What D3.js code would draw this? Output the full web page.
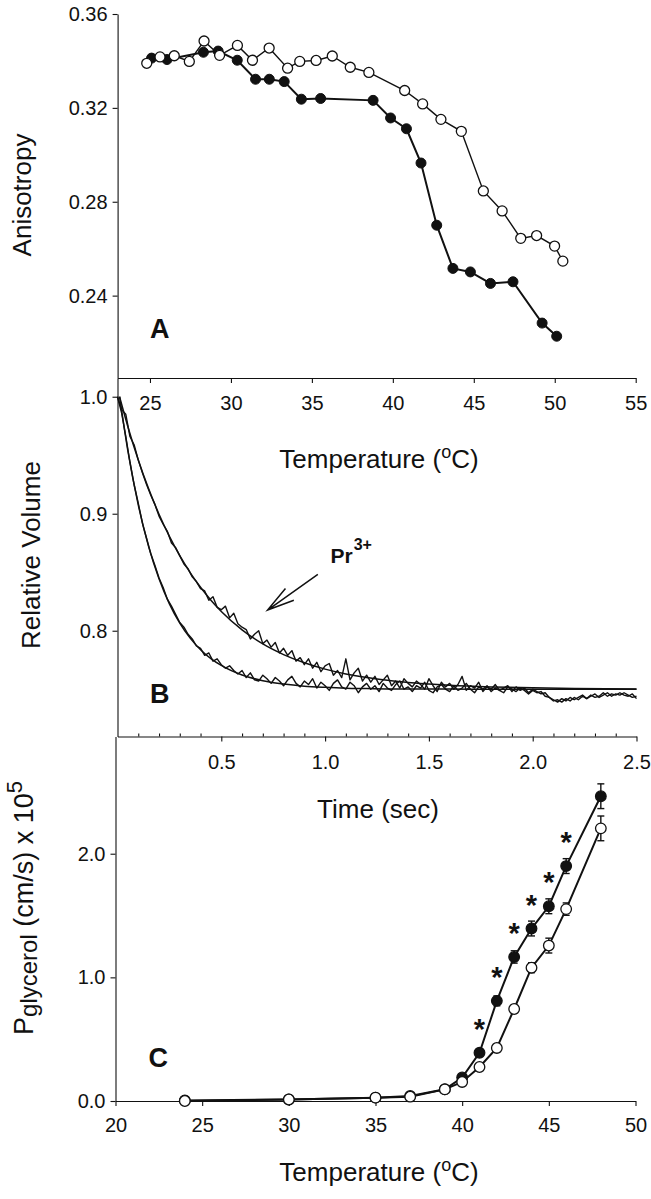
<!DOCTYPE html>
<html><head><meta charset="utf-8">
<script src="https://cdn.jsdelivr.net/npm/d3@7"></script>
<style>
html,body{margin:0;padding:0;background:#fff;}
svg{display:block;}
</style></head><body>
<svg id="chart" width="651" height="1199"></svg>
<script>
// ---------- Panel A : anisotropy vs temperature ----------
const anisoTempOpen = [24.8, 25.62, 26.5, 27.43, 28.34, 29.3, 30.4, 31.33, 32.36, 33.5, 34.25, 35.26, 36.26, 37.37, 38.52, 40.73, 41.84, 42.97, 44.23, 45.59, 46.75, 47.90, 48.88, 49.99, 50.5];
const anisoOpen     = [0.3390, 0.3417, 0.3422, 0.3398, 0.3485, 0.3424, 0.3466, 0.3403, 0.3455, 0.3369, 0.3398, 0.3402, 0.3421, 0.3373, 0.3351, 0.3274, 0.3217, 0.3151, 0.3100, 0.2846, 0.2761, 0.2644, 0.2656, 0.2611, 0.2547];
const anisoTempFilled = [25.1, 26.05, 28.3, 29.21, 30.39, 31.52, 32.37, 33.29, 34.35, 35.54, 38.78, 39.86, 40.84, 41.74, 42.71, 43.71, 44.79, 46.03, 47.42, 49.22, 50.12];
const anisoFilled     = [0.3412, 0.3406, 0.3437, 0.3442, 0.3403, 0.3322, 0.3322, 0.3312, 0.3237, 0.3240, 0.3232, 0.3157, 0.3111, 0.2965, 0.2700, 0.2516, 0.2501, 0.2452, 0.2459, 0.2283, 0.2227];
const anisoXTicks = [25, 30, 35, 40, 45, 50, 55];
const anisoYTicks = [0.24, 0.28, 0.32, 0.36];

// ---------- Panel B : relative volume vs time ----------
const traceStart = 0, traceStep = 0.02;   // acquisition grid of the recorded traces (s)
const fastTrace = [
 1.000, 0.986, 0.966, 0.944, 0.925, 0.909, 0.892, 0.879, 0.866, 0.856, 0.845, 0.837, 0.827, 0.821, 0.814, 0.807, 0.803, 0.797, 0.793, 0.787, 0.785,
 0.779, 0.781, 0.774, 0.776, 0.771, 0.768, 0.770, 0.766, 0.763, 0.766,
 0.760, 0.764, 0.758, 0.757, 0.762, 0.759, 0.755, 0.760, 0.757, 0.753,
 0.758, 0.761, 0.755, 0.752, 0.757, 0.754, 0.759, 0.751, 0.756, 0.753,
 0.749, 0.755, 0.758, 0.752, 0.750, 0.756, 0.753, 0.747, 0.752, 0.755,
 0.750, 0.753, 0.748, 0.755, 0.751, 0.749, 0.754, 0.757, 0.750, 0.752,
 0.748, 0.753, 0.751, 0.756, 0.749, 0.747, 0.752, 0.754, 0.750, 0.748,
 0.753, 0.749, 0.751, 0.755, 0.750, 0.747, 0.752, 0.750, 0.753, 0.748,
 0.751, 0.749, 0.747, 0.752, 0.750, 0.748, 0.751, 0.749, 0.746, 0.749,
 0.747, 0.748, 0.744, 0.743, 0.740, 0.741, 0.739, 0.742, 0.740, 0.743,
 0.741, 0.744, 0.742, 0.745, 0.743, 0.744, 0.747, 0.744, 0.746, 0.745,
 0.747, 0.745, 0.744, 0.746, 0.742];
const slowTrace = [
 1.000, 0.989, 0.985, 0.966, 0.959, 0.946, 0.935, 0.925, 0.916, 0.908, 0.898, 0.891, 0.885, 0.875, 0.871, 0.864, 0.857, 0.853, 0.846, 0.842, 0.836,
 0.834, 0.826, 0.829, 0.820, 0.818, 0.821, 0.811, 0.815, 0.806, 0.803,
 0.801, 0.793, 0.797, 0.800, 0.789, 0.792, 0.786, 0.790, 0.781, 0.785,
 0.779, 0.783, 0.774, 0.777, 0.771, 0.776, 0.768, 0.773, 0.765, 0.770,
 0.772, 0.762, 0.766, 0.760, 0.776, 0.758, 0.764, 0.768, 0.757, 0.762,
 0.756, 0.761, 0.754, 0.758, 0.762, 0.753, 0.757, 0.751, 0.759, 0.755,
 0.752, 0.757, 0.754, 0.750, 0.759, 0.753, 0.748, 0.756, 0.752, 0.755,
 0.750, 0.754, 0.761, 0.749, 0.753, 0.751, 0.756, 0.748, 0.752, 0.750,
 0.754, 0.749, 0.751, 0.753, 0.748, 0.752, 0.749, 0.751, 0.747, 0.750,
 0.748, 0.746, 0.747, 0.743, 0.741, 0.739, 0.742, 0.740, 0.743, 0.741,
 0.743, 0.745, 0.742, 0.744, 0.746, 0.743, 0.745, 0.747, 0.744, 0.746,
 0.745, 0.747, 0.745, 0.743, 0.744];
const fitTime = [0.01, 0.05, 0.10, 0.15, 0.20, 0.25, 0.30, 0.35, 0.40, 0.45, 0.50, 0.60, 0.70, 0.80, 0.90, 1.00, 1.10, 1.20, 1.30, 1.40, 1.50, 1.60, 1.80, 2.00, 2.20, 2.50];
const fastFit = [1.0000, 0.9537, 0.9076, 0.8719, 0.8444, 0.8230, 0.8065, 0.7937, 0.7838, 0.7762, 0.7703, 0.7621, 0.7573, 0.7544, 0.7526, 0.7516, 0.7509, 0.7506, 0.7503, 0.7502, 0.7501, 0.7501, 0.7500, 0.7500, 0.7500, 0.7500];
const slowFit = [1.0000, 0.9744, 0.9460, 0.9213, 0.8996, 0.8807, 0.8642, 0.8497, 0.8371, 0.8261, 0.8165, 0.8008, 0.7887, 0.7796, 0.7726, 0.7672, 0.7631, 0.7600, 0.7577, 0.7558, 0.7545, 0.7534, 0.7520, 0.7512, 0.7507, 0.7503];
const volXTicks = [0.5, 1.0, 1.5, 2.0, 2.5];
const volXMinor = [0.1, 0.2, 0.3, 0.4, 0.6, 0.7, 0.8, 0.9, 1.1, 1.2, 1.3, 1.4, 1.6, 1.7, 1.8, 1.9, 2.1, 2.2, 2.3, 2.4];
const volYTicks = [0.8, 0.9, 1.0];

// ---------- Panel C : glycerol permeability vs temperature ----------
const permTemps     = [24, 30, 35, 37, 39, 40, 41, 42, 43, 44, 45, 46, 48];
const permFilled    = [0.005, 0.012, 0.027, 0.040, 0.095, 0.190, 0.390, 0.810, 1.165, 1.395, 1.575, 1.900, 2.465];
const permFilledErr = [0, 0, 0, 0, 0, 0.02, 0.03, 0.04, 0.05, 0.06, 0.06, 0.06, 0.10];
const permOpen      = [0.000, 0.012, 0.027, 0.035, 0.094, 0.154, 0.275, 0.429, 0.744, 1.078, 1.257, 1.552, 2.205];
const permOpenErr   = [0, 0, 0, 0, 0, 0.02, 0.02, 0.03, 0.03, 0.04, 0.06, 0.05, 0.10];
const sigTemps = [41, 42, 43, 44, 45, 46];
const permXTicks = [20, 25, 30, 35, 40, 45, 50];
const permYTicks = [0, 1, 2];

// ---------- drawing ----------
const FONT = '"Liberation Sans", Arial, Helvetica, sans-serif';
const INK = "#111";
const svg = d3.select("#chart").attr("font-family", FONT);

function styleAxis(g) {
  g.attr("font-family", FONT).attr("font-size", 20).attr("color", INK);
  g.selectAll("path.domain").attr("stroke-width", 1.1);
  g.selectAll(".tick line").attr("stroke-width", 1.1);
  g.selectAll(".tick text").attr("fill", INK);
}

// scales
const xA = d3.scaleLinear().domain([23, 55]).range([117.6, 635.7]);
const yA = d3.scaleLinear().domain([0.2049, 0.36]).range([378, 14]);
const xB = d3.scaleLinear().domain([0, 2.5]).range([117.5, 636.5]);
const yB = d3.scaleLinear().domain([0.7096, 1.016]).range([736.5, 378]);
const xC = d3.scaleLinear().domain([20, 50]).range([115.5, 635.5]);
const yC = d3.scaleLinear().domain([0, 2.948]).range([1101, 736.5]);

// ---- Panel A axes
svg.append("g").attr("transform", `translate(${xA.range()[0]},0)`)
  .call(d3.axisLeft(yA).tickValues(anisoYTicks).tickFormat(d3.format(".2f")).tickSize(5).tickPadding(5).tickSizeOuter(0))
  .call(styleAxis);
svg.append("g").attr("transform", `translate(0,${yA.range()[0]})`)
  .call(d3.axisBottom(xA).tickValues(anisoXTicks).tickFormat(d3.format("d")).tickSize(5).tickPadding(13).tickSizeOuter(0))
  .call(styleAxis);

// ---- Panel B axes
svg.append("g").attr("transform", `translate(${xB.range()[0]},0)`)
  .call(d3.axisLeft(yB).tickValues(volYTicks).tickFormat(d3.format(".1f")).tickSize(5).tickPadding(5).tickSizeOuter(0))
  .call(styleAxis);
svg.append("g").attr("transform", `translate(0,${yB.range()[0]})`)
  .call(d3.axisBottom(xB).tickValues(volXTicks).tickFormat(d3.format(".1f")).tickSize(5).tickPadding(13).tickSizeOuter(0))
  .call(styleAxis);
svg.append("g").attr("transform", `translate(0,${yB.range()[0]})`)
  .call(d3.axisBottom(xB).tickValues(volXMinor).tickFormat("").tickSize(-3).tickSizeOuter(0))
  .call(styleAxis)
  .call(g => g.select("path.domain").remove());

// ---- Panel C axes
svg.append("g").attr("transform", `translate(${xC.range()[0]},0)`)
  .call(d3.axisLeft(yC).tickValues(permYTicks).tickFormat(d3.format(".1f")).tickSize(5).tickPadding(5).tickSizeOuter(0))
  .call(styleAxis);
svg.append("g").attr("transform", `translate(0,${yC.range()[0]})`)
  .call(d3.axisBottom(xC).tickValues(permXTicks).tickFormat(d3.format("d")).tickSize(5).tickPadding(12).tickSizeOuter(0))
  .call(styleAxis);

// ---- Panel A data
const lineA = d3.line().x(d => xA(d[0])).y(d => yA(d[1]));
const filledA = anisoTempFilled.map((t, i) => [t, anisoFilled[i]]);
const openA = anisoTempOpen.map((t, i) => [t, anisoOpen[i]]);
svg.append("path").datum(filledA).attr("d", lineA).attr("fill", "none").attr("stroke", INK).attr("stroke-width", 2);
svg.append("g").selectAll("circle").data(filledA).join("circle")
  .attr("cx", d => xA(d[0])).attr("cy", d => yA(d[1])).attr("r", 5).attr("fill", INK).attr("stroke", INK).attr("stroke-width", 1);
svg.append("path").datum(openA).attr("d", lineA).attr("fill", "none").attr("stroke", INK).attr("stroke-width", 1.4);
svg.append("g").selectAll("circle").data(openA).join("circle")
  .attr("cx", d => xA(d[0])).attr("cy", d => yA(d[1])).attr("r", 5).attr("fill", "#fff").attr("stroke", INK).attr("stroke-width", 1.3);

// ---- Panel B data
const lineB = d3.line().x(d => xB(d[0])).y(d => yB(d[1]));
const fitLine = d3.line().x(d => xB(d[0])).y(d => yB(d[1])).curve(d3.curveMonotoneX);
const fastPts = fastTrace.map((v, i) => [traceStart + i * traceStep, v]);
const slowPts = slowTrace.map((v, i) => [traceStart + i * traceStep, v]);
[fastPts, slowPts].forEach(p => svg.append("path").datum(p).attr("d", lineB)
  .attr("fill", "none").attr("stroke", INK).attr("stroke-width", 1.4).attr("stroke-linejoin", "round"));
[fastFit, slowFit].forEach(f => svg.append("path").datum(fitTime.map((t, i) => [t, f[i]])).attr("d", fitLine)
  .attr("fill", "none").attr("stroke", INK).attr("stroke-width", 1.5));

// Pr3+ annotation (arrow in data coordinates)
const arrowTail = [0.965, 0.8482], arrowTip = [0.723, 0.8177];
const tx = xB(arrowTip[0]), ty = yB(arrowTip[1]), sx = xB(arrowTail[0]), sy = yB(arrowTail[1]);
const ang = Math.atan2(sy - ty, sx - tx), bl = 28, spread = 15 * Math.PI / 180;
const b1 = [tx + bl * Math.cos(ang - spread), ty + bl * Math.sin(ang - spread)];
const b2 = [tx + bl * Math.cos(ang + spread), ty + bl * Math.sin(ang + spread)];
svg.append("path").attr("d", `M${sx},${sy}L${tx},${ty}M${b1[0]},${b1[1]}L${tx},${ty}L${b2[0]},${b2[1]}`)
  .attr("fill", "none").attr("stroke", INK).attr("stroke-width", 1.5);
const prLabel = svg.append("text").attr("x", xB(1.026)).attr("y", yB(0.8576))
  .attr("font-size", 21).attr("font-weight", "bold").attr("fill", INK);
prLabel.append("tspan").text("Pr");
prLabel.append("tspan").attr("font-size", 16).attr("dy", -13).attr("dx", 1).text("3+");

// ---- Panel C data
const lineC = d3.line().x(d => xC(d[0])).y(d => yC(d[1]));
function drawPerm(vals, errs, fill) {
  const pts = permTemps.map((t, i) => ({t, v: vals[i], e: errs[i]}));
  svg.append("path").datum(pts.map(p => [p.t, p.v])).attr("d", lineC)
    .attr("fill", "none").attr("stroke", INK).attr("stroke-width", 2);
  const eb = svg.append("g").attr("stroke", INK).attr("stroke-width", 1.4);
  pts.filter(p => p.e > 0).forEach(p => {
    const x = xC(p.t), y1 = yC(p.v + p.e), y0 = yC(p.v - p.e);
    eb.append("line").attr("x1", x).attr("x2", x).attr("y1", y1).attr("y2", y0);
    eb.append("line").attr("x1", x - 3.5).attr("x2", x + 3.5).attr("y1", y1).attr("y2", y1);
    eb.append("line").attr("x1", x - 3.5).attr("x2", x + 3.5).attr("y1", y0).attr("y2", y0);
  });
  svg.append("g").selectAll("circle").data(pts).join("circle")
    .attr("cx", p => xC(p.t)).attr("cy", p => yC(p.v)).attr("r", 5.3)
    .attr("fill", fill).attr("stroke", INK).attr("stroke-width", 1.3);
}
drawPerm(permFilled, permFilledErr, INK);
drawPerm(permOpen, permOpenErr, "#fff");
svg.append("g").selectAll("text").data(sigTemps).join("text")
  .attr("x", t => xC(t)).attr("y", t => yC(permFilled[permTemps.indexOf(t)]) - 14)
  .attr("text-anchor", "middle").attr("font-size", 29).attr("font-weight", "bold").attr("fill", INK).text("*");

// ---- panel letters
const letter = (x, y, s) => svg.append("text").attr("x", x).attr("y", y).attr("font-size", 27)
  .attr("font-weight", "bold").attr("fill", INK).text(s);
letter(xA(25.0), yA(0.222), "A");
letter(xB(0.157), yB(0.7382), "B");
letter(xC(21.9), yC(0.275), "C");

// ---- axis titles
function tempTitle(y) {
  const t = svg.append("text").attr("x", 379).attr("y", y).attr("text-anchor", "middle")
    .attr("font-size", 26).attr("fill", INK);
  t.append("tspan").text("Temperature (");
  t.append("tspan").attr("font-size", 18).attr("dy", -10).text("o");
  t.append("tspan").attr("dy", 10).text("C)");
}
tempTitle(467.5);
tempTitle(1181);
svg.append("text").attr("x", 378).attr("y", 818).attr("text-anchor", "middle")
  .attr("font-size", 26).attr("fill", INK).text("Time (sec)");

svg.append("text").attr("transform", "translate(31,195) rotate(-90)").attr("text-anchor", "middle")
  .attr("font-size", 26).attr("fill", INK).text("Anisotropy");
svg.append("text").attr("transform", "translate(40,555) rotate(-90)").attr("text-anchor", "middle")
  .attr("font-size", 26).attr("fill", INK).text("Relative Volume");
const pg = svg.append("text").attr("transform", "translate(33,908) rotate(-90)").attr("text-anchor", "middle")
  .attr("font-size", 27).attr("fill", INK);
pg.append("tspan").text("P");
pg.append("tspan").attr("font-size", 24).attr("dy", 4).text("glycerol");
pg.append("tspan").attr("dy", -4).text(" (cm/s) x 10");
pg.append("tspan").attr("font-size", 22).attr("dy", -11).text("5");
</script>
</body></html>
